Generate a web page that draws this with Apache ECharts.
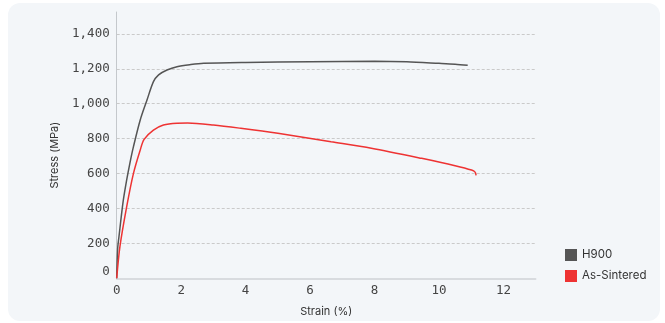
<!DOCTYPE html>
<html>
<head>
<meta charset="utf-8">
<script src="https://cdn.jsdelivr.net/npm/echarts@6/dist/echarts.min.js"></script>
<style>
html,body{margin:0;padding:0;background:#ffffff;}
#card{position:absolute;left:8px;top:3px;width:652px;height:318px;background:#f3f6f9;border-radius:12px;}
#chart{position:absolute;left:0;top:0;width:665px;height:323px;}
</style>
</head>
<body>
<div id="card"></div>
<div id="chart"></div>
<script>
const seriesNames = ['H900', 'As-Sintered'];
const h900Strain = [0, 0.03, 0.07, 0.2, 0.31, 0.41, 0.52, 0.73, 0.94, 1.14, 1.3, 1.56, 1.87, 2.3, 2.7, 4, 6, 8, 9, 10, 10.5, 10.89];
const h900Stress = [0, 170, 238, 440, 563, 660, 754, 907, 1021, 1126, 1165, 1193, 1212, 1224, 1231, 1236, 1240, 1243, 1240, 1231, 1226, 1220];
const sinteredStrain = [0, 0.1, 0.31, 0.52, 0.73, 0.85, 1.14, 1.45, 1.87, 2.2, 3, 3.85, 5, 6.65, 7.9, 9.46, 10.5, 11.01, 11.12, 11.15];
const sinteredStress = [0, 181, 410, 601, 735, 796, 849, 878, 888, 889, 878, 859, 830, 782, 745, 687, 645, 620, 608, 590];
const xTicks = [0, 2, 4, 6, 8, 10, 12];
const yTicks = [0, 200, 400, 600, 800, 1000, 1200, 1400];

const pair = (xs, ys) => xs.map((x, i) => [x, ys[i]]);
const colors = ['#555555', '#ee3333'];

const chart = echarts.init(document.getElementById('chart'), null, {renderer: 'canvas'});
chart.setOption({
  animation: false,
  backgroundColor: 'transparent',
  color: colors,
  grid: {left: 116.7, right: 129.3, top: 12, bottom: 44.7, containLabel: false},
  legend: {
    data: seriesNames,
    orient: 'vertical',
    left: 560, top: 244,
    itemWidth: 12, itemHeight: 12, itemGap: 9,
    icon: 'rect',
    textStyle: {fontFamily: 'Inter', fontSize: 11.5, color: '#333'}
  },
  xAxis: {
    type: 'value', min: 0, max: 13, interval: 2,
    name: 'Strain (%)', nameLocation: 'middle', nameGap: 28,
    nameTextStyle: {fontFamily: 'Inter', fontSize: 11, color: '#333'},
    axisLine: {show: true, lineStyle: {color: '#cfd2d6', width: 1.5}},
    axisTick: {show: false},
    splitLine: {show: false},
    axisLabel: {
      fontFamily: 'DejaVu Sans Mono', fontSize: 12.5, color: '#444', margin: 6,
      formatter: v => xTicks.includes(v) ? String(v) : ''
    }
  },
  yAxis: {
    type: 'value', min: 0, max: 1525, interval: 200,
    name: 'Stress (MPa)', nameLocation: 'middle', nameGap: 57,
    nameTextStyle: {fontFamily: 'Inter', fontSize: 11, color: '#333', padding: [0, 20, 0, 0]},
    axisLine: {show: true, lineStyle: {color: '#c4c8cc', width: 1}},
    axisTick: {show: false},
    splitLine: {show: true, showMinLine: false, showMaxLine: false, lineStyle: {color: '#cacaca', type: [3, 2], width: 1}},
    axisLabel: {
      fontFamily: 'DejaVu Sans Mono', fontSize: 12.5, color: '#444', margin: 7,
      showMaxLabel: false,
      formatter: v => {
        if (!yTicks.includes(v)) return '';
        if (v === 0) return '{z|0}';
        return v.toLocaleString('en-US');
      },
      rich: {z: {fontFamily: 'DejaVu Sans Mono', fontSize: 12.5, color: '#444', padding: [0, 0, 14, 0]}}
    }
  },
  series: [
    {
      name: seriesNames[0], type: 'line', data: pair(h900Strain, h900Stress),
      showSymbol: false, smooth: 0.3,
      lineStyle: {color: colors[0], width: 1.5}, itemStyle: {color: colors[0]}
    },
    {
      name: seriesNames[1], type: 'line', data: pair(sinteredStrain, sinteredStress),
      showSymbol: false, smooth: 0.3,
      lineStyle: {color: colors[1], width: 1.5}, itemStyle: {color: colors[1]}
    }
  ]
});
</script>
</body>
</html>
